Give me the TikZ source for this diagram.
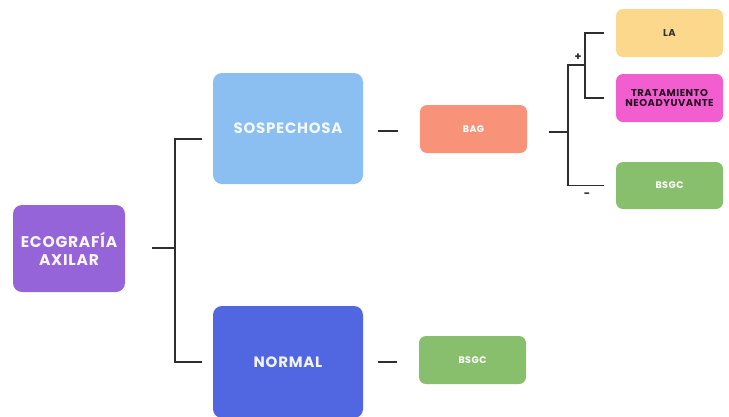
\documentclass[tikz,border=0pt]{standalone}
\usepackage{fontspec}
\setmainfont{Poppins}[LetterSpace=5]
\definecolor{cEco}{HTML}{9564D8}
\definecolor{cSosp}{HTML}{8BBEF1}
\definecolor{cNorm}{HTML}{5167E1}
\definecolor{cBag}{HTML}{F8937A}
\definecolor{cLa}{HTML}{FCD88C}
\definecolor{cTrat}{HTML}{F25DCF}
\definecolor{cBsgc}{HTML}{88BF6C}
\definecolor{cLine}{HTML}{2E2E2E}
\begin{document}
\begin{tikzpicture}[x=1pt,y=-1pt,
  box/.style={rectangle,rounded corners=9pt,inner sep=0pt,align=center,font=\bfseries},
  bigbox/.style={box,minimum width=150pt,minimum height=111pt,font=\bfseries\fontsize{15}{18}\selectfont},
  smallbox/.style={box,rounded corners=7pt,minimum width=107pt,minimum height=48pt,font=\bfseries\fontsize{10}{10.5}\selectfont},
  tinytext/.style={font=\bfseries\fontsize{9.5}{10}\selectfont},
  conn/.style={draw=cLine,line width=1.4pt},
  sign/.style={font=\bfseries\fontsize{11}{11}\selectfont,text=cLine,inner sep=0pt}]
\useasboundingbox[fill=white] (0,0) rectangle (729,416);
\begin{scope}
\clip (0,0) rectangle (729,416);
\node[box,fill=cEco,text=white!94!cEco,minimum width=112pt,minimum height=87pt,font=\bfseries\fontsize{15.5}{18}\selectfont] (eco) at (69,248.5) {ECOGRAFÍA\\AXILAR};
\node[bigbox,fill=cSosp,text=white!90!cSosp] (sosp) at (288,128.5) {SOSPECHOSA};
\node[bigbox,fill=cNorm,text=white!92!cNorm,minimum height=112pt] (norm) at (288,362) {NORMAL};
\node[smallbox,fill=cBag,text=white,tinytext] (bag) at (473.5,129) {BAG};
\node[smallbox,fill=cLa,text=black!80] (la) at (669.5,33) {LA};
\node[smallbox,fill=cTrat,text=black!85!cTrat] (trat) at (669.5,98) {TRATAMIENTO\\NEOADYUVANTE};
\node[smallbox,fill=cBsgc,text=white,minimum height=47pt,tinytext] (bsgc1) at (669.5,185.5) {BSGC};
\node[smallbox,fill=cBsgc,text=white,tinytext] (bsgc2) at (472.5,360) {BSGC};
\end{scope}
% connectors
\coordinate (j1) at (175,248);
\draw[conn] ([xshift=27pt]eco.east |- j1) -- (j1);
\draw[conn] ([xshift=-11pt,yshift=-10.5pt]sosp.west) -| (j1) |- ([xshift=-11pt]norm.west);
\draw[conn] ([xshift=15pt,yshift=-2.5pt]sosp.east) -- ([xshift=-22pt,yshift=-2.5pt]bag.west |- sosp.east);
\draw[conn] ([xshift=15pt]norm.east) -- ([xshift=-22pt]bsgc2.west |- norm.east);
\coordinate (j2) at (568,132);
\coordinate (j3) at (568,65);
\coordinate (j4) at (585,65);
\draw[conn] ([xshift=22pt]bag.east |- j2) -- (j2);
\draw[conn] ([xshift=-12pt]bsgc1.west) -| (j2) -- (j3) -- (j4);
\draw[conn] ([xshift=-12pt]la.west) -| (j4) |- ([xshift=-12pt]trat.west);
\node[sign] (plus) at (578,57) {+};
\node[sign] (minus) at (587,195) {-};
\end{tikzpicture}
\end{document}
